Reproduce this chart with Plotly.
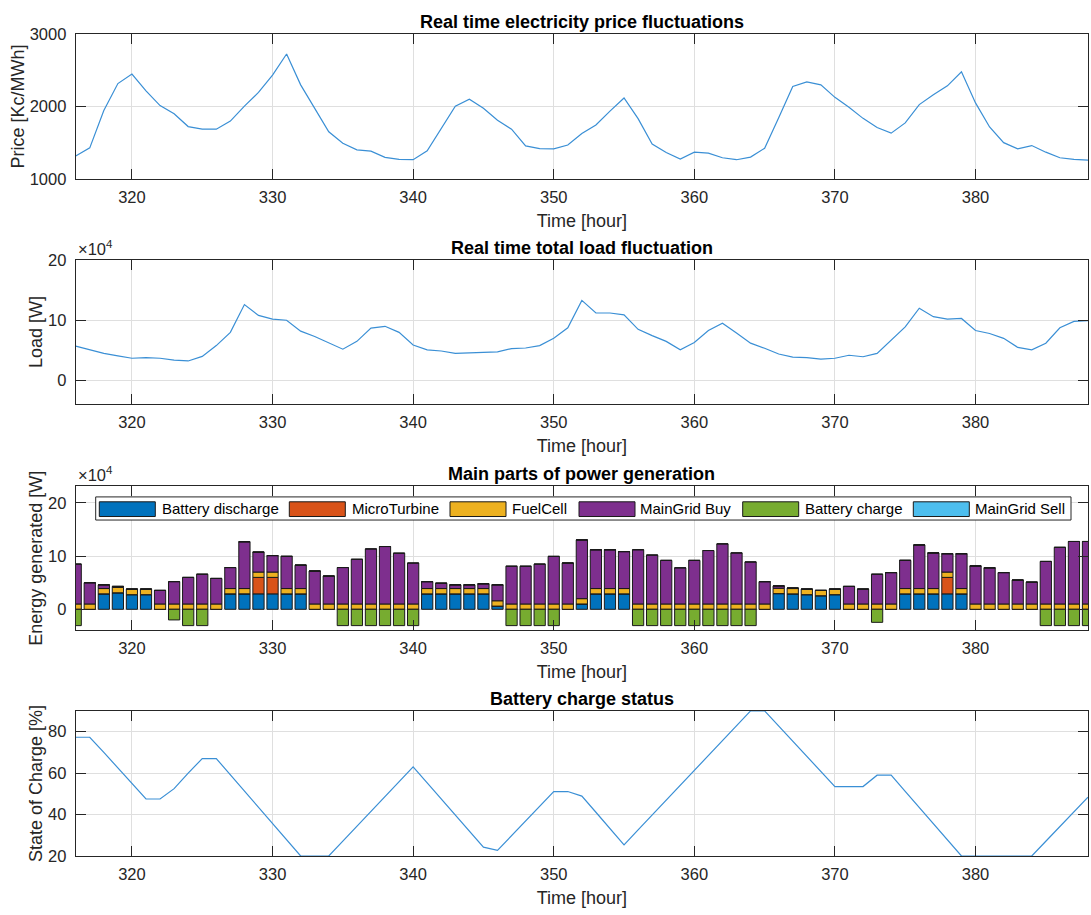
import plotly.graph_objects as go

# ---------------- data ----------------
hours = [316, 317, 318, 319, 320, 321, 322, 323, 324, 325, 326, 327, 328, 329, 330,
         331, 332, 333, 334, 335, 336, 337, 338, 339, 340, 341, 342, 343, 344, 345,
         346, 347, 348, 349, 350, 351, 352, 353, 354, 355, 356, 357, 358, 359, 360,
         361, 362, 363, 364, 365, 366, 367, 368, 369, 370, 371, 372, 373, 374, 375,
         376, 377, 378, 379, 380, 381, 382, 383, 384, 385, 386, 387, 388]

price = [1317, 1430, 1945, 2317, 2448, 2217, 2013, 1900, 1724, 1688, 1688, 1800, 2005, 2195, 2434,
         2724, 2299, 1982, 1652, 1493, 1403, 1385, 1299, 1271, 1267, 1389, 1701, 2005, 2100, 1977,
         1810, 1688, 1457, 1421, 1416, 1470, 1629, 1747, 1937, 2118, 1833, 1484, 1367, 1276, 1371,
         1357, 1294, 1267, 1303, 1425, 1846, 2276, 2339, 2299, 2127, 1991, 1837, 1710, 1633, 1774,
         2027, 2163, 2285, 2480, 2050, 1719, 1502, 1416, 1462, 1371, 1294, 1271, 1262]

load_w = [57000, 51000, 45000, 41000, 37000, 38000, 37000, 34000, 32500, 40000, 58000, 80000, 126000, 108000, 102000,
          100000, 82000, 73000, 63000, 52000, 65000, 87000, 90000, 80000, 59000, 51000, 49000, 45000, 46000, 47000,
          47500, 53000, 54000, 58000, 70000, 87500, 133000, 112000, 112000, 109000, 85000, 74500, 65000, 51000, 63000,
          83000, 95000, 79000, 62000, 53500, 44000, 39000, 38000, 35500, 37000, 42000, 39500, 45000, 67000, 89000,
          120000, 106000, 102000, 103000, 83000, 78000, 70000, 55000, 51000, 62000, 87500, 98000, 99500]

batt_discharge = [0, 0, 29000, 31000, 27500, 27500, 0, 0, 0, 0, 0, 29000, 29000, 29000, 29000,
                  29000, 29000, 0, 0, 0, 0, 0, 0, 0, 0, 29000, 29000, 29000, 29000, 29000,
                  6000, 0, 0, 0, 0, 0, 10000, 29000, 29000, 29000, 0, 0, 0, 0, 0,
                  0, 0, 0, 0, 0, 29500, 29000, 27500, 25500, 27500, 0, 0, 0, 0, 29000,
                  29000, 29000, 29000, 29000, 0, 0, 0, 0, 0, 0, 0, 0, 0]

micro_turbine = [0, 0, 0, 0, 0, 0, 0, 0, 0, 0, 0, 0, 0, 31000, 31000,
                 0, 0, 0, 0, 0, 0, 0, 0, 0, 0, 0, 0, 0, 0, 0,
                 0, 0, 0, 0, 0, 0, 0, 0, 0, 0, 0, 0, 0, 0, 0,
                 0, 0, 0, 0, 0, 0, 0, 0, 0, 0, 0, 0, 0, 0, 0,
                 0, 0, 31000, 0, 0, 0, 0, 0, 0, 0, 0, 0, 0]

fuel_cell = [10000, 10000, 10000, 10000, 10000, 10000, 10000, 10000, 10000, 10000, 10000, 10000, 10000, 10000, 10000,
             10000, 10000, 10000, 10000, 10000, 10000, 10000, 10000, 10000, 10000, 10000, 10000, 10000, 10000, 10000,
             10000, 10000, 10000, 10000, 10000, 10000, 10000, 10000, 10000, 10000, 10000, 10000, 10000, 10000, 10000,
             10000, 10000, 10000, 10000, 10000, 10000, 10000, 10000, 10000, 10000, 10000, 10000, 10000, 10000, 10000,
             10000, 10000, 10000, 10000, 10000, 10000, 10000, 10000, 10000, 10000, 10000, 10000, 10000]

grid_buy = [75000, 40000, 7000, 2000, 500, 500, 25500, 42000, 50000, 56000, 48000, 39500, 88000, 37500, 31000,
            60500, 44000, 62000, 52500, 68500, 84000, 103500, 108000, 95500, 77000, 13000, 10000, 7000, 7000, 9000,
            30000, 71000, 71000, 75000, 89500, 77000, 110500, 73000, 73000, 69500, 102000, 92000, 82000, 68000, 82000,
            100500, 113000, 96000, 79000, 42000, 4500, 1000, 500, 0, 500, 33000, 28000, 56000, 59000, 53000,
            82000, 67000, 34500, 65500, 71500, 68000, 59000, 45000, 41000, 80000, 106500, 117500, 117500]

batt_charge = [-30700, 0, 0, 0, 0, 0, 0, -20000, -30700, -30700, 0, 0, 0, 0, 0,
               0, 0, 0, 0, -30700, -30700, -30700, -30700, -30700, -30700, 0, 0, 0, 0, 0,
               0, -30700, -30700, -30700, -30700, 0, 0, 0, 0, 0, -30700, -30700, -30700, -30700, -30700,
               -30700, -30700, -30700, -30700, 0, 0, 0, 0, 0, 0, 0, 0, -24500, 0, 0,
               0, 0, 0, 0, 0, 0, 0, 0, 0, -30700, -30700, -30700, -30700]

grid_sell = [0] * 73

soc = [77.3, 77.3, 70.0, 62.5, 55.0, 47.5, 47.5, 52.5, 60.0, 67.0, 67.0, 59.2, 51.3, 43.5, 35.7,
       27.8, 20.0, 20.0, 20.0, 27.2, 34.3, 41.5, 48.7, 55.8, 63.0, 55.3, 47.5, 39.8, 32.0, 24.3,
       22.7, 29.8, 36.9, 44.0, 51.1, 51.1, 48.9, 41.1, 33.2, 25.4, 32.6, 39.8, 46.9, 54.1, 61.3,
       68.5, 75.6, 82.8, 90.0, 90.0, 82.7, 75.4, 68.1, 60.8, 53.5, 53.5, 53.5, 59.0, 59.0, 51.2,
       43.4, 35.6, 27.8, 20.0, 20.0, 20.0, 20.0, 20.0, 20.0, 27.1, 34.2, 41.3, 48.4]

x_ticks = [320, 330, 340, 350, 360, 370, 380]

series_names = ["Battery discharge", "MicroTurbine", "FuelCell", "MainGrid Buy", "Battery charge", "MainGrid Sell"]
series_colors = ["#0072BD", "#D95319", "#EDB120", "#7E2F8E", "#77AC30", "#4DBEEE"]
series_values = [batt_discharge, micro_turbine, fuel_cell, grid_buy, batt_charge, grid_sell]

# ---------------- styling ----------------
W, H = 1091, 915
FONT = "Liberation Sans, Arial, Helvetica, sans-serif"
TXT = "#262626"
LINE_BLUE = "#3a8fd5"
x_left, x_right = 75.7 / W, 1088.0 / W
# (top_px, bottom_px) of each axes box
boxes = [(25.5, 173.5), (256.0, 403.0), (487.0, 633.5), (716.0, 864.0)]
doms = [[1 - b / H, 1 - t / H] for t, b in boxes]

fig = go.Figure()

fig.add_trace(go.Scatter(x=hours, y=price, mode="lines", line=dict(color=LINE_BLUE, width=1.2),
                         showlegend=False, xaxis="x", yaxis="y"))
fig.add_trace(go.Scatter(x=hours, y=load_w, mode="lines", line=dict(color=LINE_BLUE, width=1.2),
                         showlegend=False, xaxis="x2", yaxis="y2"))

for name, vals, col in zip(series_names, series_values, series_colors):
    fig.add_trace(go.Bar(x=hours, y=vals, name=name, width=0.8, showlegend=False,
                         marker=dict(color=col, line=dict(color="#1a1a1a", width=1)),
                         xaxis="x3", yaxis="y3"))

fig.add_trace(go.Scatter(x=hours, y=soc, mode="lines", line=dict(color=LINE_BLUE, width=1.2),
                         showlegend=False, xaxis="x4", yaxis="y4"))


def xax(anchor):
    return dict(domain=[x_left, x_right], anchor=anchor, range=[316, 388],
                tickvals=x_ticks, showline=True, linecolor=TXT, linewidth=1, mirror="ticks",
                ticks="inside", ticklen=10, tickwidth=1, tickcolor=TXT,
                showgrid=True, gridcolor="#dfdfdf", gridwidth=1, zeroline=False,
                tickfont=dict(size=16.5, color=TXT, family=FONT), ticklabelstandoff=3,
                title=dict(text="Time [hour]", font=dict(size=18, color=TXT, family=FONT), standoff=9))


def yax(anchor, dom, rng, tickvals, ticktext, title):
    return dict(domain=dom, anchor=anchor, range=rng, tickvals=tickvals, ticktext=ticktext,
                showline=True, linecolor=TXT, linewidth=1, mirror="ticks",
                ticks="inside", ticklen=10, tickwidth=1, tickcolor=TXT,
                showgrid=True, gridcolor="#dfdfdf", gridwidth=1, zeroline=False,
                tickfont=dict(size=16.5, color=TXT, family=FONT), ticklabelstandoff=5,
                title=dict(text=title, font=dict(size=18, color=TXT, family=FONT), standoff=0))


fig.update_layout(
    width=W, height=H, margin=dict(l=0, r=0, t=0, b=0),
    paper_bgcolor="white", plot_bgcolor="white",
    font=dict(family=FONT, color=TXT),
    barmode="relative", showlegend=False,
    xaxis=xax("y"), xaxis2=xax("y2"), xaxis3=xax("y3"), xaxis4=xax("y4"),
    yaxis=yax("x", doms[0], [1000, 3000], [1000, 2000, 3000], ["1000", "2000", "3000"], "Price [Kc/MWh]"),
    yaxis2=yax("x2", doms[1], [-39000, 200000], [0, 100000, 200000], ["0", "10", "20"], "Load [W]"),
    yaxis3=yax("x3", doms[2], [-39000, 231000], [0, 100000, 200000], ["0", "10", "20"], "Energy generated [W]"),
    yaxis4=yax("x4", doms[3], [20, 90], [20, 40, 60, 80], ["20", "40", "60", "80"], "State of Charge [%]"),
)

titles = ["Real time electricity price fluctuations", "Real time total load fluctuation",
          "Main parts of power generation", "Battery charge status"]
ann = []
shapes = []
for t, d in zip(titles, doms):
    ann.append(dict(text="<b>" + t + "</b>", x=(x_left + x_right) / 2, y=d[1], xref="paper", yref="paper",
                    xanchor="center", yanchor="middle", yshift=12, showarrow=False,
                    font=dict(size=18, color="#000000", family=FONT)))
for d in (doms[1], doms[2]):
    ann.append(dict(text="×10<sup>4</sup>", x=x_left, y=d[1], xref="paper", yref="paper",
                    xanchor="left", yanchor="bottom", yshift=0, showarrow=False,
                    font=dict(size=16.5, color=TXT, family=FONT)))


# ---- legend of the generation panel (horizontal box at the top of the axes) ----
def px(x):
    return x / W


def py(y):
    return 1 - y / H


top3 = boxes[2][0]
leg_box = (95.7, top3 + 10.7, 1071.0, top3 + 34.3)
icon_left = [99.3, 289.3, 450.0, 579.0, 742.7, 913.3]
text_left = [160.0, 350.0, 510.0, 638.3, 803.3, 973.3]
shapes.append(dict(type="rect", xref="paper", yref="paper",
                   x0=px(leg_box[0]), x1=px(leg_box[2]), y0=py(leg_box[3]), y1=py(leg_box[1]),
                   fillcolor="white", line=dict(color=TXT, width=1), layer="above"))
for name, col, il, tl in zip(series_names, series_colors, icon_left, text_left):
    shapes.append(dict(type="rect", xref="paper", yref="paper",
                       x0=px(il), x1=px(il + 56), y0=py(top3 + 30.7), y1=py(top3 + 15.7),
                       fillcolor=col, line=dict(color="#1a1a1a", width=1), layer="above"))
    ann.append(dict(text=name, x=px(tl), y=py(top3 + 22.8), xref="paper", yref="paper",
                    xanchor="left", yanchor="middle", showarrow=False,
                    font=dict(size=15, color="#000000", family=FONT)))

fig.update_layout(annotations=ann, shapes=shapes)

fig.write_html("out.html")
